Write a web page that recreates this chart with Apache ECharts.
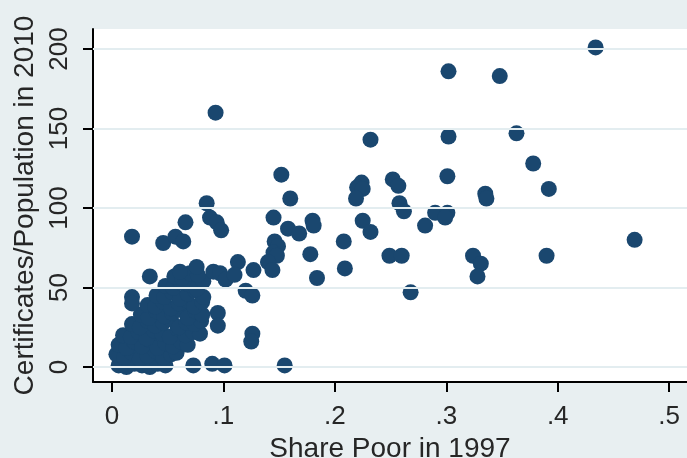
<!DOCTYPE html>
<html>
<head>
<meta charset="utf-8">
<title>Certificates vs Share Poor</title>
<script src="https://cdn.jsdelivr.net/npm/echarts@6/dist/echarts.min.js"></script>
<style>
  html, body { margin: 0; padding: 0; background: #e8eff1; }
  #chart { width: 687px; height: 458px; }
</style>
</head>
<body>
<div id="chart"></div>
<script>
// Share of population poor in 1997 (x) for each county
const sharePoor1997 = [
  // dense low-poverty group, by band of certificates
  0.006, 0.013, 0.020, 0.027, 0.034, 0.041, 0.048,
  0.004, 0.011, 0.018, 0.025, 0.032, 0.039, 0.046, 0.053, 0.058,
  0.006, 0.013, 0.020, 0.027, 0.034, 0.041, 0.048, 0.055, 0.062, 0.068,
  0.010, 0.017, 0.024, 0.031, 0.038, 0.045, 0.052, 0.059, 0.066, 0.073, 0.079,
  0.018, 0.025, 0.032, 0.039, 0.046, 0.053, 0.060, 0.067, 0.074, 0.080,
  0.026, 0.033, 0.040, 0.047, 0.054, 0.061, 0.068, 0.075, 0.081,
  0.032, 0.039, 0.046, 0.053, 0.060, 0.067, 0.074, 0.081,
  0.040, 0.047, 0.054, 0.061, 0.068, 0.075, 0.082,
  0.048, 0.055, 0.062, 0.069, 0.076, 0.082,
  0.056, 0.063, 0.070, 0.077,
  // around the edge of the group
  0.018, 0.046, 0.057, 0.064, 0.066, 0.085, 0.088, 0.094, 0.098, 0.113,
  0.034, 0.061, 0.076, 0.091, 0.097, 0.018, 0.018, 0.120, 0.095, 0.095,
  0.073, 0.090, 0.101, 0.102, 0.110,
  // middle and high poverty
  0.152, 0.160, 0.145, 0.158, 0.168, 0.180, 0.181, 0.146, 0.149, 0.145,
  0.148, 0.140, 0.144, 0.127, 0.178, 0.184, 0.208, 0.209, 0.224, 0.220,
  0.225, 0.219, 0.225, 0.232, 0.252, 0.257, 0.258, 0.262, 0.249, 0.260,
  0.268, 0.126, 0.126, 0.125, 0.155,
  0.302, 0.348, 0.302, 0.363, 0.378, 0.301, 0.392, 0.335, 0.336, 0.290,
  0.301, 0.299, 0.281, 0.324, 0.331, 0.328, 0.390,
  0.434, 0.093, 0.232, 0.469
];

// Certificates per population in 2010 (y), same order
const certPerPop2010 = [
  1, 0, 2, 1, 0, 2, 1,
  8, 6, 9, 5, 7, 10, 6, 8, 9,
  14, 12, 16, 13, 17, 12, 15, 13, 16, 14,
  20, 19, 22, 18, 23, 21, 19, 24, 20, 22, 21,
  27, 25, 29, 26, 28, 30, 25, 28, 27, 29,
  33, 31, 35, 32, 34, 36, 31, 35, 33,
  39, 38, 41, 37, 40, 42, 38, 41,
  45, 44, 47, 43, 46, 48, 44,
  51, 50, 53, 52, 49, 54,
  57, 56, 59, 58,
  82, 78, 82, 79, 91, 103, 94, 91, 86, 66,
  57, 60, 63, 60, 59, 44, 40, 48, 34, 26,
  1, 2, 1, 55, 58,
  121, 106, 94, 87, 84, 92, 89, 79, 76, 72,
  70, 66, 61, 61, 71, 56, 79, 62, 116, 113,
  112, 106, 92, 85, 118, 114, 103, 98, 70, 70,
  47, 45, 21, 16, 1,
  186, 183, 145, 147, 128, 120, 112, 109, 106, 97,
  97, 94, 89, 70, 65, 57, 70,
  201, 160, 143, 80
];

const xTicks = [0, 0.1, 0.2, 0.3, 0.4, 0.5];
const yTicks = [0, 50, 100, 150, 200];

const points = sharePoor1997.map((x, i) => [x, certPerPop2010[i]]);

const textColor = '#262626';
const fontFamily = '"Liberation Sans", Arial, sans-serif';

const chart = echarts.init(document.getElementById('chart'), null, { renderer: 'canvas' });

chart.setOption({
  backgroundColor: '#e8eff1',
  animation: false,
  grid: {
    left: 93, right: 0, top: 29, bottom: 76,
    containLabel: false,
    outerBoundsMode: 'none',
    show: true, backgroundColor: '#ffffff', borderWidth: 0
  },
  xAxis: {
    type: 'value',
    min: -0.017, max: 0.516,
    name: 'Share Poor in 1997',
    nameLocation: 'middle',
    nameGap: 45,
    nameTextStyle: { color: textColor, fontSize: 28, fontFamily },
    axisLine: { show: true, onZero: false, lineStyle: { color: '#000', width: 2 } },
    axisTick: { show: true, length: 10, customValues: xTicks, lineStyle: { color: '#000', width: 2 } },
    axisLabel: {
      customValues: xTicks,
      margin: 22,
      color: textColor, fontSize: 26, fontFamily,
      formatter: v => (v === 0 ? '0' : String(v).replace(/^0\./, '.'))
    },
    splitLine: { show: false }
  },
  yAxis: {
    type: 'value',
    min: -9.4, max: 212.6,
    name: 'Certificates/Population in 2010',
    nameLocation: 'middle',
    nameGap: 54,
    nameTextStyle: { color: textColor, fontSize: 28, fontFamily },
    axisLine: { show: true, onZero: false, lineStyle: { color: '#000', width: 2 } },
    axisTick: { show: true, length: 10, customValues: yTicks, lineStyle: { color: '#000', width: 2 } },
    axisLabel: {
      customValues: yTicks,
      rotate: 90,
      margin: 20,
      color: textColor, fontSize: 26, fontFamily
    },
    splitLine: { show: false }
  },
  series: [
    {
      // horizontal grid lines at each y tick
      type: 'scatter',
      data: [],
      z: 1,
      silent: true,
      markLine: {
        silent: true,
        symbol: 'none',
        label: { show: false },
        lineStyle: { color: '#e3edf0', width: 2, type: 'solid' },
        data: yTicks.map(v => ({ yAxis: v }))
      }
    },
    {
      type: 'scatter',
      z: 2,
      data: points,
      symbol: 'circle',
      symbolSize: 16,
      itemStyle: { color: '#1a476f', opacity: 1 }
    }
  ]
});
</script>
</body>
</html>
